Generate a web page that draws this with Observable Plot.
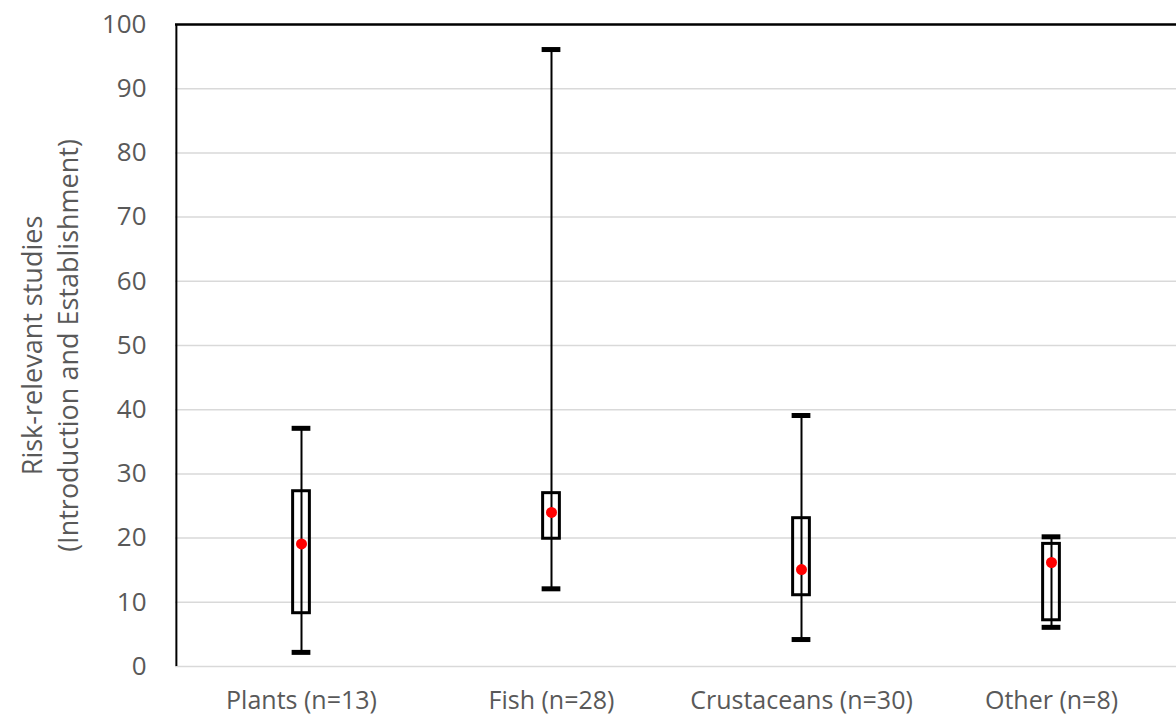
<!DOCTYPE html>
<html>
<head>
<meta charset="utf-8">
<script src="https://cdn.jsdelivr.net/npm/d3@7"></script>
<script src="https://cdn.jsdelivr.net/npm/@observablehq/plot@0.6"></script>
<style>
  html, body { margin: 0; padding: 0; background: #fff; }
  #chart svg { display: block; }
</style>
</head>
<body>
<div id="chart"></div>
<script>
const categories = ["Plants (n=13)", "Fish (n=28)", "Crustaceans (n=30)", "Other (n=8)"];
const whiskerLow  = [2.2, 12.1, 4.2, 6.1];
const whiskerHigh = [37.1, 96.1, 39.1, 20.2];
const boxLow      = [8.3, 19.9, 11.1, 7.2];
const boxHigh     = [27.3, 27.0, 23.1, 19.1];
const means       = [19.1, 24.0, 15.1, 16.2];
const yTicks = [0, 10, 20, 30, 40, 50, 60, 70, 80, 90, 100];
const yLabel = "Risk-relevant studies\n(Introduction and Establishment)";

const rows = categories.map((c, i) => ({
  cat: c, lo: whiskerLow[i], hi: whiskerHigh[i], q1: boxLow[i], q3: boxHigh[i], mean: means[i]
}));

const W = 1176, H = 719;
const mL = 175, mR = 0, mT = 24, mB = 53;
const band = (W - mL - mR) / categories.length;
const boxW = 17, capW = 19;

const font = "'Open Sans', sans-serif";
const grey = "#595959";

const chart = Plot.plot({
  width: W,
  height: H,
  marginLeft: mL,
  marginRight: mR,
  marginTop: mT,
  marginBottom: mB,
  style: { fontFamily: font, background: "#fff" },
  x: { domain: categories, padding: 0, label: null },
  y: { domain: [0, 100], label: null },
  marks: [
    Plot.gridY(yTicks, { stroke: "#d9d9d9", strokeOpacity: 1, strokeWidth: 1.5 }),
    Plot.axisY(yTicks, { tickSize: 0, tickPadding: 29, fontSize: 26, fill: grey, label: null }),
    Plot.axisX({ tickSize: 0, tickPadding: 25, fontSize: 25, fill: grey, label: null }),
    Plot.ruleY([100], { stroke: "#000", strokeWidth: 2.5 }),
    Plot.ruleX([categories[0]], { y1: 0, y2: 100, dx: -band / 2, stroke: "#000", strokeWidth: 2 }),
    Plot.ruleX(rows, { x: "cat", y1: "lo", y2: "hi", stroke: "#000", strokeWidth: 2 }),
    Plot.rectY(rows, {
      x: "cat", y1: "q1", y2: "q3",
      insetLeft: (band - boxW) / 2, insetRight: (band - boxW) / 2,
      fill: "none", stroke: "#000", strokeWidth: 3
    }),
    Plot.tickY(rows, { x: "cat", y: "lo", inset: (band - capW) / 2, stroke: "#000", strokeWidth: 5 }),
    Plot.tickY(rows, { x: "cat", y: "hi", inset: (band - capW) / 2, stroke: "#000", strokeWidth: 5 }),
    Plot.dot(rows, { x: "cat", y: "mean", r: 5.5, fill: "#ff0000", stroke: "none" }),
    Plot.text([yLabel], {
      frameAnchor: "left", dx: -127, dy: 0, rotate: -90,
      fontSize: 27, fill: grey, lineHeight: 1.33, textAnchor: "middle", lineAnchor: "middle"
    })
  ]
});
document.getElementById("chart").appendChild(chart);
</script>
</body>
</html>
